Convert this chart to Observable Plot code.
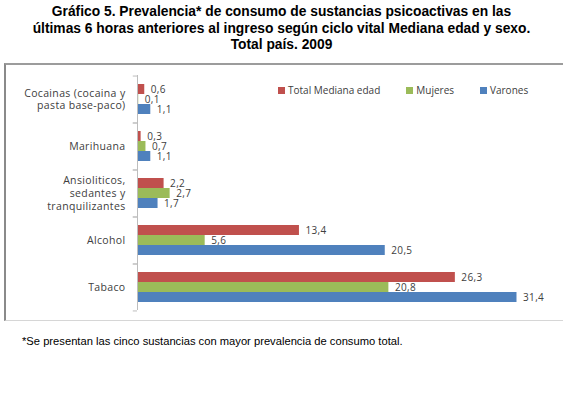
<!DOCTYPE html>
<html>
<head>
<meta charset="utf-8">
<script src="https://cdn.jsdelivr.net/npm/d3@7"></script>
<script src="https://cdn.jsdelivr.net/npm/@observablehq/plot@0.6"></script>
<style>
  html, body { margin: 0; padding: 0; background: #fff; overflow: hidden; width: 563px; height: 394px; }
  #title { position: absolute; left: 0; top: 4px; width: 563px; text-align: center;
    font-family: "Liberation Sans", Arial, sans-serif; font-weight: bold; font-size: 13.8px; line-height: 16.5px; color: #000; }
  #box { position: absolute; left: 4px; top: 63px; width: 600px; height: 255px;
    border-left: 2px solid #8a8a8a; border-top: 2px solid #9c9c9c; border-bottom: 1px solid #d6d6d6; }
  #chart { position: absolute; left: 0; top: 0; }
  #chart svg { letter-spacing: 0.35px; }
  #legend { position: absolute; left: 272px; top: 18px; display: flex; font-family: "Open Sans", Lato, sans-serif; font-size: 10px; color: #404040; }
  #legend .item { display: flex; align-items: center; margin-right: 26px; }
  #legend .sw { width: 7px; height: 7px; margin-right: 3px; }
  #note { position: absolute; left: 22px; top: 335px; font-family: "Liberation Sans", Arial, sans-serif; font-size: 11.2px; color: #000; }
</style>
</head>
<body>
<div id="title">Gráfico 5. Prevalencia* de consumo de sustancias psicoactivas en las<br>últimas 6 horas anteriores al ingreso según ciclo vital Mediana edad y sexo.<br>Total país. 2009</div>
<div id="box"><div id="chart"></div><div id="legend"></div></div>
<div id="note">*Se presentan las cinco sustancias con mayor prevalencia de consumo total.</div>
<script>
const categories = ["Cocainas (cocaina y\npasta base-paco)", "Marihuana", "Ansioliticos,\nsedantes y\ntranquilizantes", "Alcohol", "Tabaco"];
const series = ["Total Mediana edad", "Mujeres", "Varones"];
const totalValues = [0.6, 0.3, 2.2, 13.4, 26.3];
const mujeresValues = [0.1, 0.7, 2.7, 5.6, 20.8];
const varonesValues = [1.1, 1.1, 1.7, 20.5, 31.4];
const colors = ["#C0504D", "#9BBB59", "#4F81BD"];

const seriesValues = [totalValues, mujeresValues, varonesValues];
const rows = [];
categories.forEach((c, i) => series.forEach((s, j) => rows.push({category: c, series: s, value: seriesValues[j][i]})));
const fmt = v => d3.format(".1f")(v).replace(".", ",");

const W = 557, H = 255, mT = 8, mB = 9, mL = 131, mR = 3;
const padOuter = 0.8;
const facetH = (H - mT - mB) / categories.length;
const step = facetH / (series.length + 2 * padOuter);
const edgeOffset = (padOuter + 0.5) * step;
const font = "'Open Sans', Lato, sans-serif";

const plot = Plot.plot({
  width: W, height: H,
  marginTop: mT, marginBottom: mB, marginLeft: mL, marginRight: mR,
  style: {fontFamily: font, fontSize: "10px", color: "#404040", background: "transparent"},
  x: {domain: [0, 35], axis: null},
  y: {domain: series, paddingInner: 0, paddingOuter: padOuter, axis: null},
  fy: {domain: categories, padding: 0, label: null},
  color: {domain: series, range: colors},
  marks: [
    Plot.axisFy({anchor: "left", tickSize: 0, tickPadding: 12, lineHeight: 1.2, fontSize: 10.5, fill: "#404040", label: null}),
    Plot.barX(rows, {fy: "category", y: "series", x: "value", fill: "series"}),
    Plot.text(rows, {fy: "category", y: "series", x: "value", text: d => fmt(d.value), textAnchor: "start", dx: 6, fill: "#404040", fontSize: 10}),
    Plot.ruleX(categories, {fy: d => d, x: () => 0, stroke: "#bdbdbd"}),
    Plot.ruleY(categories, {fy: d => d, y: () => series[0], x1: -0.35, x2: 0, dy: -edgeOffset, stroke: "#bdbdbd"}),
    Plot.ruleY(categories, {fy: d => d, y: () => series[series.length - 1], x1: -0.35, x2: 0, dy: edgeOffset, stroke: "#bdbdbd"})
  ]
});
document.getElementById("chart").appendChild(plot);

const legend = d3.select("#legend");
series.forEach((s, j) => {
  const item = legend.append("div").attr("class", "item");
  item.append("div").attr("class", "sw").style("background", colors[j]);
  item.append("span").text(s);
});
</script>
</body>
</html>
